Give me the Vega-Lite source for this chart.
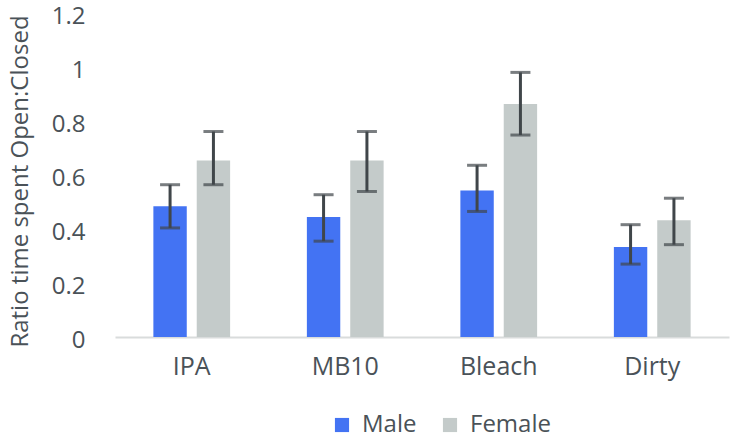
{
  "$schema": "https://vega.github.io/schema/vega-lite/v6.json",
  "width": 614,
  "height": 324,
  "autosize": "none",
  "padding": {"left": 115, "top": 13, "right": 2, "bottom": 102},
  "background": "white",
  "config": {"view": {"stroke": null}, "font": "Open Sans"},
  "data": {"values": [
    {"treatment": "IPA", "sex": "Male", "ratio": 0.484, "lo": 0.404, "hi": 0.564},
    {"treatment": "IPA", "sex": "Female", "ratio": 0.654, "lo": 0.564, "hi": 0.761},
    {"treatment": "MB10", "sex": "Male", "ratio": 0.444, "lo": 0.355, "hi": 0.527},
    {"treatment": "MB10", "sex": "Female", "ratio": 0.654, "lo": 0.539, "hi": 0.761},
    {"treatment": "Bleach", "sex": "Male", "ratio": 0.543, "lo": 0.465, "hi": 0.636},
    {"treatment": "Bleach", "sex": "Female", "ratio": 0.863, "lo": 0.748, "hi": 0.98},
    {"treatment": "Dirty", "sex": "Male", "ratio": 0.333, "lo": 0.27, "hi": 0.416},
    {"treatment": "Dirty", "sex": "Female", "ratio": 0.432, "lo": 0.342, "hi": 0.514}
  ]},
  "encoding": {
    "x": {
      "field": "treatment", "type": "nominal", "sort": ["IPA", "MB10", "Bleach", "Dirty"],
      "scale": {"paddingInner": 0.5, "paddingOuter": 0.25},
      "axis": {"title": null, "labelAngle": 0, "ticks": false, "domainColor": "#d9dcdc", "domainWidth": 2,
               "labelFontSize": 25, "labelColor": "#4a5258", "labelPadding": 17}
    },
    "xOffset": {"field": "sex", "type": "nominal", "sort": ["Male", "Female"],
                "scale": {"paddingInner": 0.23, "paddingOuter": 0}}
  },
  "layer": [
    {
      "mark": {"type": "bar"},
      "encoding": {
        "y": {"field": "ratio", "type": "quantitative",
              "scale": {"domain": [0, 1.2]},
              "axis": {"title": "Ratio time spent Open:Closed", "values": [0, 0.2, 0.4, 0.6, 0.8, 1, 1.2],
                       "format": "~g", "grid": false, "domain": false, "ticks": false, "labelFlush": false,
                       "labelFontSize": 24, "labelColor": "#4a5258", "labelPadding": 30, "labelOffset": 3,
                       "titleFontSize": 24, "titleFontWeight": "normal", "titleColor": "#4a5258", "titlePadding": 19,
                       "titleY": 168}},
        "color": {"field": "sex", "type": "nominal", "sort": ["Male", "Female"],
                  "scale": {"domain": ["Male", "Female"], "range": ["#4373f3", "#c4cbca"]},
                  "legend": {"title": null, "orient": "none", "legendX": 215, "legendY": 400, "direction": "horizontal",
                             "symbolType": "square", "symbolSize": 200, "symbolStrokeWidth": 0, "symbolOpacity": 1,
                             "labelFontSize": 24, "labelColor": "#4a5258", "columnPadding": 21, "labelOffset": 8}}
      }
    },
    {
      "mark": {"type": "rule", "color": "#40464a", "strokeWidth": 3},
      "encoding": {"y": {"field": "lo", "type": "quantitative"}, "y2": {"field": "hi"}}
    },
    {
      "mark": {"type": "tick", "color": "#40464a", "thickness": 3, "size": 20},
      "encoding": {"y": {"field": "lo", "type": "quantitative"}}
    },
    {
      "mark": {"type": "tick", "color": "#40464a", "thickness": 3, "size": 20},
      "encoding": {"y": {"field": "hi", "type": "quantitative"}}
    }
  ]
}
